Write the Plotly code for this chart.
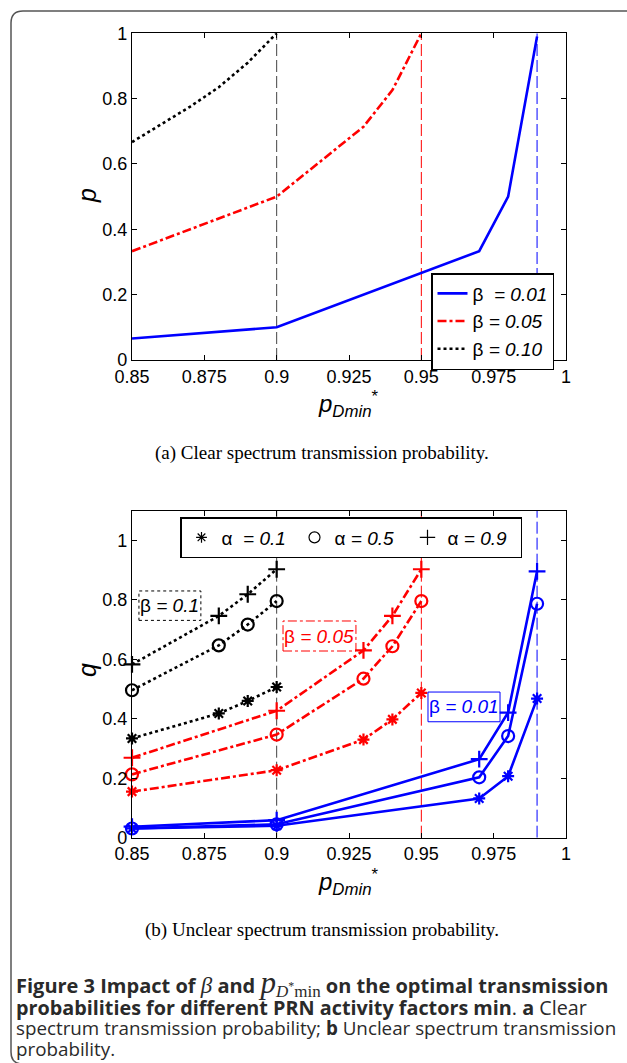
import plotly.graph_objects as go

W, H = 627, 1063

# ---------------- data: panel (a) ----------------
xa_b001 = [0.85, 0.90, 0.97, 0.98, 0.99]
pa_b001 = [0.066, 0.100, 0.333, 0.500, 0.990]
xa_b005 = [0.85, 0.875, 0.90, 0.93, 0.94, 0.95]
pa_b005 = [0.333, 0.416, 0.500, 0.714, 0.826, 1.000]
xa_b010 = [0.85, 0.86, 0.87, 0.88, 0.89, 0.90]
pa_b010 = [0.667, 0.720, 0.775, 0.835, 0.910, 1.000]

# ---------------- data: panel (b) ----------------
xb_b001 = [0.85, 0.90, 0.97, 0.98, 0.99]
qb_b001_a01 = [0.031, 0.040, 0.132, 0.207, 0.468]
qb_b001_a05 = [0.031, 0.045, 0.203, 0.342, 0.787]
qb_b001_a09 = [0.037, 0.059, 0.264, 0.421, 0.896]
xb_b005 = [0.85, 0.90, 0.93, 0.94, 0.95]
qb_b005_a01 = [0.155, 0.227, 0.330, 0.398, 0.487]
qb_b005_a05 = [0.213, 0.347, 0.535, 0.644, 0.796]
qb_b005_a09 = [0.269, 0.427, 0.630, 0.746, 0.903]
xb_b010 = [0.85, 0.88, 0.89, 0.90]
qb_b010_a01 = [0.334, 0.418, 0.460, 0.507]
qb_b010_a05 = [0.496, 0.647, 0.717, 0.796]
qb_b010_a09 = [0.583, 0.746, 0.819, 0.903]

# limits p_Dmin* for each beta
vline_x = [0.99, 0.95, 0.90]
vline_colors = ["#0000ff", "#ff0000", "#444444"]

x_tickvals = [0.85, 0.875, 0.90, 0.925, 0.95, 0.975, 1.0]
x_ticktext = ["0.85", "0.875", "0.9", "0.925", "0.95", "0.975", "1"]
y_tickvals = [0, 0.2, 0.4, 0.6, 0.8, 1.0]
y_ticktext = ["0", "0.2", "0.4", "0.6", "0.8", "1"]

BLUE, RED, BLACK = "#0000ff", "#ff0000", "#000000"
SANS = "Liberation Sans, Arial, sans-serif"
SERIF = "Liberation Serif, Times New Roman, serif"
TICKFONT = dict(family=SANS, size=18, color="black")


def px_x(x):
    return x / W


def px_y(y):
    return 1 - y / H


fig = go.Figure()

# ---------------- panel (a) traces ----------------
for xv, col in zip(vline_x, vline_colors):
    fig.add_trace(go.Scatter(x=[xv, xv], y=[0, 1], mode="lines", xaxis="x", yaxis="y",
                             line=dict(color=col, width=1, dash="12px,4px"), showlegend=False,
                             hoverinfo="skip"))

fig.add_trace(go.Scatter(x=xa_b001, y=pa_b001, mode="lines", xaxis="x", yaxis="y",
                         line=dict(color=BLUE, width=2.6), name="β <i> = 0.01</i>",
                         legend="legend"))
fig.add_trace(go.Scatter(x=xa_b005, y=pa_b005, mode="lines", xaxis="x", yaxis="y",
                         line=dict(color=RED, width=2.6, dash="dashdot"),
                         name="β <i>= 0.05</i>", legend="legend"))
fig.add_trace(go.Scatter(x=xa_b010, y=pa_b010, mode="lines", xaxis="x", yaxis="y",
                         line=dict(color=BLACK, width=2.6, dash="dot"),
                         name="β <i>= 0.10</i>", legend="legend"))

# ---------------- panel (b) traces ----------------
for xv, col in zip(vline_x, vline_colors):
    fig.add_trace(go.Scatter(x=[xv, xv], y=[0, 1.1], mode="lines", xaxis="x2", yaxis="y2",
                             line=dict(color=col, width=1, dash="12px,4px"), showlegend=False,
                             hoverinfo="skip"))

SYMS = {"a01": ("asterisk-open", 10), "a05": ("circle-open", 12), "a09": ("cross-thin-open", 12)}

groups = [
    (xb_b010, {"a01": qb_b010_a01, "a05": qb_b010_a05, "a09": qb_b010_a09}, BLACK, "dot"),
    (xb_b005, {"a01": qb_b005_a01, "a05": qb_b005_a05, "a09": qb_b005_a09}, RED, "dashdot"),
    (xb_b001, {"a01": qb_b001_a01, "a05": qb_b001_a05, "a09": qb_b001_a09}, BLUE, "solid"),
]
for xs, series, col, dash in groups:
    for key, ys in series.items():
        sym, size = SYMS[key]
        fig.add_trace(go.Scatter(x=xs, y=ys, mode="lines+markers", xaxis="x2", yaxis="y2",
                                 line=dict(color=col, width=2.6, dash=dash),
                                 marker=dict(symbol=sym, size=size,
                                             line=dict(color=col, width=2.2), color=col),
                                 cliponaxis=False, showlegend=False))

# legend entries of panel (b)
for key, label in [("a01", "α <i> = 0.1</i>"), ("a05", "α <i>= 0.5</i>"), ("a09", "α <i>= 0.9</i>")]:
    sym, size = SYMS[key]
    fig.add_trace(go.Scatter(x=[None], y=[None], mode="markers", xaxis="x2", yaxis="y2",
                             marker=dict(symbol=sym, size=size - 1, color=BLACK,
                                         line=dict(color=BLACK, width=1.2)),
                             name=label, legend="legend2"))

axis_common = dict(showline=True, linecolor="black", linewidth=1.2, mirror="ticks",
                   ticks="inside", ticklen=5, tickcolor="black", tickwidth=1,
                   showgrid=False, zeroline=False, tickfont=TICKFONT, automargin=False)

x_dom = [px_x(132), px_x(566)]
fig.update_layout(
    width=W, height=H,
    margin=dict(l=0, r=0, t=0, b=0, autoexpand=False),
    paper_bgcolor="white", plot_bgcolor="white",
    xaxis=dict(domain=x_dom, range=[0.85, 1.0], tickvals=x_tickvals, ticktext=x_ticktext,
               anchor="y", **axis_common),
    yaxis=dict(domain=[px_y(360), px_y(33.3)], range=[0, 1.0], tickvals=y_tickvals,
               ticktext=y_ticktext, anchor="x", **axis_common),
    xaxis2=dict(domain=x_dom, range=[0.85, 1.0], tickvals=x_tickvals, ticktext=x_ticktext,
                anchor="y2", **axis_common),
    yaxis2=dict(domain=[px_y(837.7), px_y(510.7)], range=[0, 1.1], tickvals=y_tickvals,
                ticktext=y_ticktext, anchor="x2", **axis_common),
    legend=dict(x=px_x(431), y=px_y(273), xanchor="left", yanchor="top",
                bordercolor="black", borderwidth=1.5, bgcolor="white",
                font=dict(family=SANS, size=19, color="black"),
                tracegroupgap=0, itemwidth=30),
    legend2=dict(x=px_x(180), y=px_y(517), xanchor="left", yanchor="top",
                 orientation="h", bordercolor="black", borderwidth=1.5, bgcolor="white",
                 font=dict(family=SANS, size=19, color="black"),
                 itemwidth=30, entrywidth=68),
    showlegend=True,
)

ann = []
# axis titles
for ycen, t in ((196, "<i>p</i>"), (670, "<i>q</i>")):
    ann.append(dict(text=t, x=px_x(87), y=px_y(ycen), xref="paper", yref="paper",
                    xanchor="center", yanchor="middle", showarrow=False, textangle=-90,
                    font=dict(family=SANS, size=25, color="black")))
for ycen in (404, 882):
    ann.append(dict(text="<i>p</i><sub><i>Dmin</i></sub><sup>*</sup>", x=px_x(348),
                    y=px_y(ycen), xref="paper", yref="paper", showarrow=False,
                    xanchor="center", yanchor="middle",
                    font=dict(family=SANS, size=24, color="black")))

# sub-captions
ann.append(dict(text="(a) Clear spectrum transmission probability.", x=px_x(153), y=px_y(453),
                xref="paper", yref="paper", xanchor="left", yanchor="middle", showarrow=False,
                font=dict(family=SERIF, size=19, color="black")))
ann.append(dict(text="(b) Unclear spectrum transmission probability.", x=px_x(143), y=px_y(930),
                xref="paper", yref="paper", xanchor="left", yanchor="middle", showarrow=False,
                font=dict(family=SERIF, size=19, color="black")))

# beta labels inside panel (b)
box_specs = [
    ("β <i>= 0.1</i>", BLACK, "dot", [0.8524, 0.8738], [0.731, 0.830]),
    ("β <i>= 0.05</i>", RED, "dashdot", [0.9022, 0.9274], [0.628, 0.729]),
    ("β <i>= 0.01</i>", BLUE, "solid", [0.9523, 0.9772], [0.390, 0.490]),
]
shapes = []
for txt, col, dash, bx, by in box_specs:
    ann.append(dict(text=txt, x=(bx[0] + bx[1]) / 2, y=(by[0] + by[1]) / 2, xref="x2", yref="y2",
                    xanchor="center", yanchor="middle",
                    showarrow=False, font=dict(family=SANS, size=19, color=col)))
    shapes.append(dict(type="rect", xref="x2", yref="y2", x0=bx[0], x1=bx[1], y0=by[0], y1=by[1],
                       line=dict(color=col, width=1, dash=dash), fillcolor="rgba(0,0,0,0)"))

# figure caption, one annotation per line
cap_lines = [
    ("<b>Figure 3 Impact of </b><span style='font-family:Liberation Serif;font-size:23px'><i>β</i></span>"
     "<b> and </b><span style='font-family:Liberation Serif;font-size:31px'><i>p</i></span>"
     "<sub><span style='font-family:Liberation Serif;font-size:17px'><i>D</i><sup>*</sup>min</span></sub>"
     "<b> on the optimal transmission</b>", 983, 20),
    ("<b>probabilities for different PRN activity factors min</b>. <b>a</b> Clear", 1007, 19.8),
    ("spectrum transmission probability; <b>b</b> Unclear spectrum transmission", 1028, 18.8),
    ("probability.", 1049, 18.8),
]
for txt, yc, fs in cap_lines:
    ann.append(dict(text=txt, x=px_x(14), y=px_y(yc), xref="paper", yref="paper",
                    xanchor="left", yanchor="middle", align="left", showarrow=False,
                    font=dict(family="Open Sans, Noto Sans, sans-serif", size=fs,
                              color="#2a2a2a")))

# outer rounded frame
r = 12
x0, y0, x1, y1 = 11, 11, 660, 1064
path = (f"M {px_x(x1)},{px_y(y0)} L {px_x(x0 + r)},{px_y(y0)} "
        f"Q {px_x(x0)},{px_y(y0)} {px_x(x0)},{px_y(y0 + r)} "
        f"L {px_x(x0)},{px_y(y1 - r)} Q {px_x(x0)},{px_y(y1)} {px_x(x0 + r)},{px_y(y1)} "
        f"L {px_x(x1)},{px_y(y1)}")
shapes.append(dict(type="path", xref="paper", yref="paper", path=path,
                   line=dict(color="#555555", width=1.5)))

fig.update_layout(annotations=ann, shapes=shapes)
fig.write_html("out.html", config={"displayModeBar": False},
               post_script="document.body.style.margin='0';document.body.style.overflow='hidden';")
